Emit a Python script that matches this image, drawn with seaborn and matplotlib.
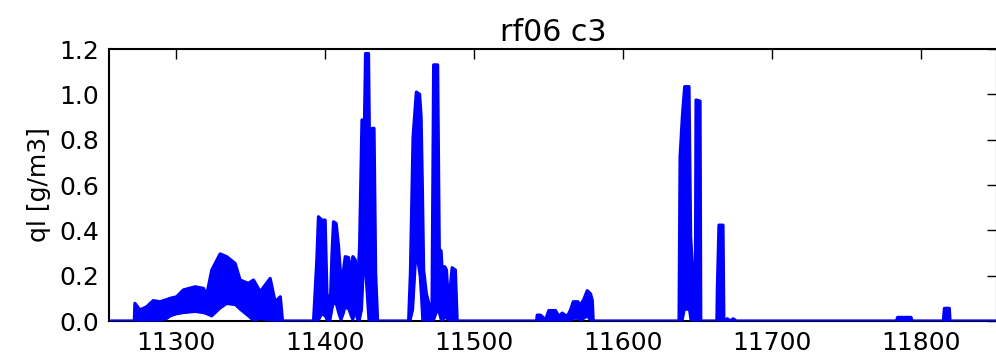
import matplotlib
matplotlib.use("Agg")
import matplotlib.pyplot as plt
import seaborn as sns

# values (time, liquid water content upper/lower envelope)
t_pts = [11255.0, 11272.0, 11272.4, 11275.8, 11280.3, 11284.7, 11289.2, 11294.0,
         11296.0, 11300.4, 11304.9, 11312.8, 11318.4, 11320.6, 11324.0, 11329.6,
         11334.0, 11339.7, 11343.0, 11348.6, 11352.0, 11356.5, 11363.2, 11366.5,
         11370.0, 11371.5,
         11392.3, 11394.5, 11395.6, 11397.9, 11400.1, 11401.3, 11403.5, 11404.6,
         11405.7, 11407.5, 11409.1, 11410.7, 11412.4, 11413.6, 11415.8, 11417.4,
         11418.7, 11420.3, 11421.8, 11423.2, 11424.8, 11426.5, 11427.2, 11429.2,
         11430.4, 11431.7, 11432.9, 11434.0, 11435.3,
         11456.1, 11457.3, 11459.1, 11461.3, 11463.5, 11464.5, 11465.3, 11466.2,
         11468.0, 11470.2, 11471.8, 11472.9, 11475.6, 11476.7, 11477.9, 11479.2,
         11480.3, 11481.5, 11483.0, 11485.3, 11487.5, 11488.7,
         11542.0, 11542.4, 11544.6, 11548.0, 11550.2, 11554.7, 11557.0, 11559.2,
         11562.6, 11564.8, 11566.6, 11569.7, 11571.5, 11573.7, 11576.0, 11578.2,
         11579.4, 11580.0,
         11637.6, 11638.3, 11639.9, 11641.4, 11644.3, 11645.4, 11647.2, 11648.6,
         11649.0, 11651.7, 11652.2, 11663.0, 11663.3, 11664.4, 11667.1, 11667.7,
         11670.0, 11672.0, 11674.0, 11676.0,
         11783.5, 11784.3, 11793.3, 11794.0, 11815.0, 11815.7, 11819.0, 11819.5, 11851.0]

ql_top = [0.0, 0.0, 0.078, 0.049, 0.063, 0.090, 0.085, 0.095,
          0.100, 0.107, 0.137, 0.151, 0.144, 0.115, 0.225, 0.296,
          0.284, 0.254, 0.181, 0.166, 0.181, 0.129, 0.188, 0.085,
          0.107, 0.0,
          0.0, 0.269, 0.460, 0.445, 0.445, 0.122, 0.063, 0.284,
          0.438, 0.430, 0.328, 0.181, 0.225, 0.284, 0.280, 0.210,
          0.284, 0.270, 0.151, 0.328, 0.887, 0.887, 1.180, 1.180,
          0.445, 0.850, 0.850, 0.210, 0.0,
          0.0, 0.210, 0.813, 1.010, 1.000, 0.900, 0.607, 0.225,
          0.122, 0.063, 0.050, 1.130, 1.130, 0.313, 0.310, 0.151,
          0.240, 0.225, 0.070, 0.235, 0.225, 0.0,
          0.0, 0.026, 0.026, 0.005, 0.046, 0.046, 0.020, 0.035,
          0.020, 0.049, 0.085, 0.085, 0.070, 0.096, 0.134, 0.120,
          0.090, 0.0,
          0.0, 0.725, 0.909, 1.034, 1.034, 0.372, 0.180, 0.180,
          0.975, 0.970, 0.0, 0.0, 0.137, 0.423, 0.423, 0.0,
          0.010, 0.0, 0.010, 0.0,
          0.0, 0.016, 0.016, 0.0, 0.0, 0.056, 0.056, 0.0, 0.0]

ql_bot = [0.0, 0.0, 0.0, 0.0, 0.0, 0.0, 0.0, 0.01,
          0.02, 0.03, 0.035, 0.04, 0.035, 0.03, 0.02, 0.055,
          0.075, 0.07, 0.05, 0.02, 0.0, 0.01, 0.0, 0.0,
          0.0, 0.0,
          0.0, 0.0, 0.0, 0.03, 0.02, 0.0, 0.0, 0.04,
          0.08, 0.07, 0.03, 0.0, 0.03, 0.06, 0.05, 0.02,
          0.0, 0.04, 0.0, 0.0, 0.05, 0.30, 0.20, 0.0,
          0.0, 0.0, 0.0, 0.0, 0.0,
          0.0, 0.0, 0.05, 0.30, 0.20, 0.10, 0.0, 0.0,
          0.0, 0.0, 0.0, 0.0, 0.05, 0.03, 0.0, 0.0,
          0.02, 0.01, 0.0, 0.0, 0.0, 0.0,
          0.0, 0.0, 0.0, 0.0, 0.0, 0.0, 0.0, 0.0,
          0.0, 0.0, 0.01, 0.01, 0.0, 0.01, 0.02, 0.0,
          0.0, 0.0,
          0.0, 0.0, 0.0, 0.05, 0.05, 0.0, 0.0, 0.0,
          0.0, 0.0, 0.0, 0.0, 0.0, 0.0, 0.0, 0.0,
          0.0, 0.0, 0.0, 0.0,
          0.0, 0.0, 0.0, 0.0, 0.0, 0.0, 0.0, 0.0, 0.0]

x_ticks = [11300, 11400, 11500, 11600, 11700, 11800]
y_ticks = [0.0, 0.2, 0.4, 0.6, 0.8, 1.0, 1.2]

sns.set_style("white")
plt.rcParams['font.family'] = ['DejaVu Sans']
plt.rcParams['text.color'] = 'black'
plt.rcParams['axes.labelcolor'] = 'black'

fig = plt.figure(figsize=(9.96, 3.59), dpi=100)
ax = fig.add_axes([0.1094, 0.1058, 0.8916, 0.7577])

ax.fill_between(t_pts, ql_bot, ql_top, color='blue', linewidth=0, zorder=3)
sns.lineplot(x=t_pts, y=ql_top, color='blue', linewidth=2.3, estimator=None,
             ax=ax, zorder=3)
sns.lineplot(x=t_pts, y=ql_bot, color='blue', linewidth=1.5, estimator=None,
             ax=ax, zorder=3)

ax.set_xlim(11255, 11851)
ax.set_ylim(0, 1.2)
ax.set_xticks(x_ticks)
ax.set_yticks(y_ticks)
ax.set_yticklabels([f"{v:.1f}" for v in y_ticks])
ax.tick_params(direction='in', length=7, width=1, top=True, right=True,
               labelsize=18, colors='black')
ax.tick_params(axis='y', pad=7)
ax.tick_params(axis='x', pad=7)
for s in ax.spines.values():
    s.set_color('black')
    s.set_linewidth(1.5)

ax.set_ylabel('ql [g/m3]', fontsize=18, labelpad=6)
ax.set_title('rf06 c3', fontsize=21.6, pad=6)

fig.savefig('out.png', dpi=100)
